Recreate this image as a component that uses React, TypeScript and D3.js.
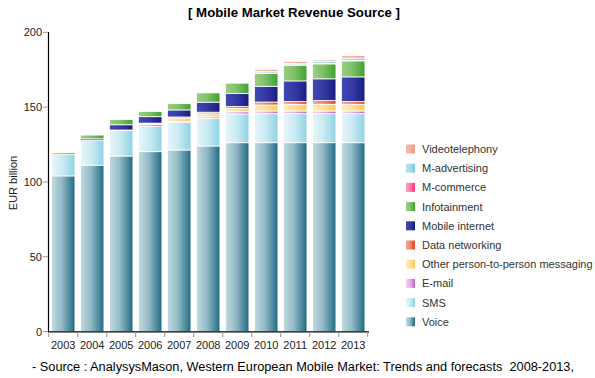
import React from "react";
import * as d3 from "d3";

const years = ["2003","2004","2005","2006","2007","2008","2009","2010","2011","2012","2013"];
const voice = [104, 111.2, 117.3, 120.2, 121.3, 124, 126.2, 126.2, 126.2, 126.2, 126.2];
const sms = [14.2, 16.6, 17.1, 16.9, 18.3, 18.5, 19.2, 19.4, 19.4, 19.4, 19.4];
const email = [0, 0, 0.3, 1.2, 0.8, 1, 1.5, 1.8, 1.8, 1.8, 1.8];
const otherP2P = [0, 0, 0, 0.5, 2.2, 2, 2.2, 4, 4.5, 4.5, 4.5];
const dataNetworking = [0, 0, 0, 0.5, 0.8, 1.1, 1.3, 2, 1.8, 2.5, 1.8];
const mobileInternet = [0, 1, 3.5, 4.3, 4.7, 6.7, 8.7, 10.5, 13.8, 14.5, 16.5];
const infotainment = [1.2, 2.5, 3.5, 3.5, 4.2, 6.2, 6.9, 8.7, 10.5, 10, 10.7];
const mCommerce = [0, 0, 0, 0, 0, 0, 0, 0.2, 0.3, 0.3, 0.3];
const mAdvertising = [0, 0, 0, 0, 0, 0, 0, 1.1, 0.9, 1.2, 1.6];
const videotelephony = [0, 0, 0, 0, 0, 0, 0, 1.3, 1.3, 1.1, 1.6];
const yTicks = [0, 50, 100, 150, 200];

const seriesNames = ["Voice","SMS","E-mail","Other person-to-person messaging","Data networking","Mobile internet","Infotainment","M-commerce","M-advertising","Videotelephony"];
const seriesValues = [voice, sms, email, otherP2P, dataNetworking, mobileInternet, infotainment, mCommerce, mAdvertising, videotelephony];
const seriesColors: [string, string][] = [
  ["#c2dbe1", "#1f6a82"],
  ["#e6f6fa", "#8ed2e4"],
  ["#f2d4f2", "#c25ec8"],
  ["#ffecbc", "#ffc85c"],
  ["#f2a68c", "#e04526"],
  ["#4149b3", "#1a1b80"],
  ["#9bce84", "#3ea22e"],
  ["#ff9cbc", "#ff3272"],
  ["#b4e2ee", "#86c8dc"],
  ["#f5bcaa", "#eb9c84"],
];

export default function App() {
  const W = 595, H = 378;
  const x = d3.scaleBand<string>().domain(years).range([48.7, 367.7]).paddingInner(0.19).paddingOuter(0.095);
  const y = d3.scaleLinear().domain([0, 200]).range([331.5, 32.3]);
  const table = years.map((yr, i) => {
    const row: any = { year: yr };
    seriesNames.forEach((n, k) => (row[n] = seriesValues[k][i]));
    return row;
  });
  const stacked = d3.stack<any>().keys(seriesNames)(table);
  const step = x.step();
  const off = (step - x.bandwidth()) / 2;
  const xTickPos = years.map((yr) => (x(yr) as number) - off).concat([(x(years[years.length - 1]) as number) + x.bandwidth() + off]);
  const font = "'Liberation Sans', Arial, sans-serif";
  const legendOrder = [...seriesNames].reverse();

  return (
    <svg width={W} height={H} style={{ position: "absolute", left: 0, top: 0, background: "#fff" }} fontFamily={font}>
      <defs>
        {seriesColors.map((c, k) => (
          <linearGradient key={k} id={`g${k}`} x1="0" y1="0" x2="1" y2="0">
            <stop offset="0" stopColor={c[0]} />
            <stop offset="0.45" stopColor={d3.interpolateRgb(c[0], c[1])(0.3)} />
            <stop offset="1" stopColor={c[1]} />
          </linearGradient>
        ))}
      </defs>
      <text x={294} y={17} textAnchor="middle" fontSize={12.5} fontWeight="bold" fill="#000"
        textLength={212} lengthAdjust="spacingAndGlyphs">[ Mobile Market Revenue Source ]</text>

      {stacked.map((layer, k) => (
        <g key={k}>
          {layer.map((d, i) => {
            const h = y(d[0]) - y(d[1]);
            if (h <= 0) return null;
            return (
              <rect key={i} x={x(years[i])} y={y(d[1])} width={x.bandwidth()} height={h}
                fill={`url(#g${k})`} stroke="#fff" strokeWidth={0.8} />
            );
          })}
        </g>
      ))}

      {/* y axis */}
      <line x1={48.5} x2={48.5} y1={32} y2={332} stroke="#000" strokeWidth={1.2} />
      {yTicks.map((t) => (
        <g key={t}>
          <line x1={43} x2={48} y1={y(t)} y2={y(t)} stroke="#999" />
          <text x={42} y={y(t) + 4} textAnchor="end" fontSize={11} fill="#222">{t}</text>
        </g>
      ))}
      <text transform={`translate(17,183) rotate(-90)`} textAnchor="middle" fontSize={11} fill="#222">EUR billion</text>

      {/* x axis */}
      <line x1={48} x2={369} y1={331.8} y2={331.8} stroke="#000" strokeWidth={1.2} />
      {xTickPos.map((p, i) => (
        <line key={i} x1={p} x2={p} y1={332} y2={337} stroke="#999" />
      ))}
      {years.map((yr) => (
        <text key={yr} x={(x(yr) as number) + x.bandwidth() / 2} y={349} textAnchor="middle" fontSize={11} fill="#222">{yr}</text>
      ))}

      {/* legend */}
      {legendOrder.map((n, j) => {
        const k = seriesNames.indexOf(n);
        const cy = 149 + j * 19.2;
        return (
          <g key={n}>
            <rect x={406} y={cy - 4.5} width={9} height={9} fill={`url(#g${k})`} />
            <text x={422} y={cy + 4} fontSize={11} fill="#333">{n}</text>
          </g>
        );
      })}

      <text x={32} y={370.5} fontSize={12} fill="#000" textLength={542} lengthAdjust="spacingAndGlyphs"
        style={{ whiteSpace: "pre" }}>{"- Source : AnalysysMason, Western European Mobile Market: Trends and forecasts  2008-2013,"}</text>
    </svg>
  );
}
